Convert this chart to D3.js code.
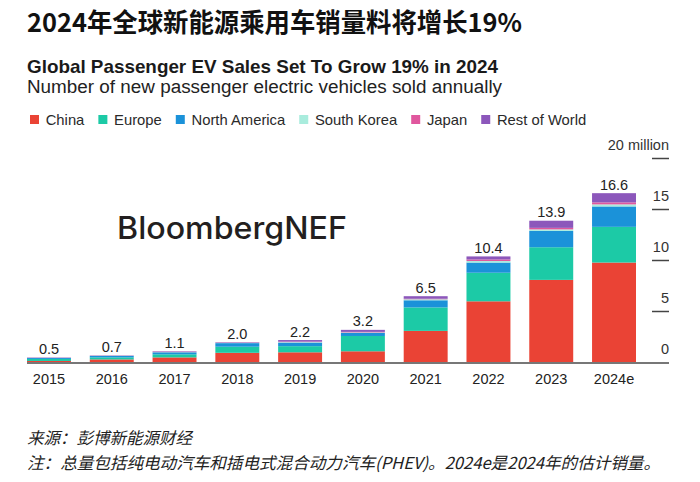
<!DOCTYPE html>
<html>
<head>
<meta charset="utf-8">
<script src="https://cdn.jsdelivr.net/npm/d3@7"></script>
<style>
  html, body { margin: 0; padding: 0; background: #ffffff; }
  svg { display: block; }
</style>
</head>
<body>
<svg id="chart" width="700" height="482"></svg>
<script>
// ---------------- data ----------------
const years = ["2015", "2016", "2017", "2018", "2019", "2020", "2021", "2022", "2023", "2024e"];
const china        = [0.15, 0.30, 0.50, 0.95, 1.00, 1.10, 3.10, 6.00, 8.10, 9.80];
const europe       = [0.20, 0.20, 0.30, 0.60, 0.60, 1.50, 2.30, 2.80, 3.20, 3.50];
const northAmerica = [0.10, 0.15, 0.20, 0.35, 0.35, 0.30, 0.70, 1.00, 1.60, 2.00];
const southKorea   = [0.01, 0.01, 0.02, 0.03, 0.05, 0.05, 0.10, 0.15, 0.15, 0.20];
const japan        = [0.02, 0.02, 0.03, 0.03, 0.05, 0.05, 0.05, 0.15, 0.15, 0.20];
const restOfWorld  = [0.02, 0.02, 0.05, 0.04, 0.15, 0.20, 0.25, 0.30, 0.70, 0.90];
const totalLabels  = ["0.5", "0.7", "1.1", "2.0", "2.2", "3.2", "6.5", "10.4", "13.9", "16.6"];
const seriesNames  = ["China", "Europe", "North America", "South Korea", "Japan", "Rest of World"];
const seriesColors = ["#ea4335", "#1ccaa6", "#1b92d9", "#a9ecdd", "#e0579e", "#8c57bb"];
const yTicks       = [0, 5, 10, 15, 20];
const yTickLabels  = ["0", "5", "10", "15", "20 million"];

const titleCN  = "2024年全球新能源乘用车销量料将增长19%";
const titleEN  = "Global Passenger EV Sales Set To Grow 19% in 2024";
const subtitle = "Number of new passenger electric vehicles sold annually";
const source   = "来源：彭博新能源财经";
const note     = "注：总量包括纯电动汽车和插电式混合动力汽车(PHEV)。2024e是2024年的估计销量。";

// ---------------- build table ----------------
const seriesData = [china, europe, northAmerica, southKorea, japan, restOfWorld];
const keys = seriesNames;
const table = years.map((yr, i) => {
  const row = { year: yr, label: totalLabels[i] };
  keys.forEach((k, j) => { row[k] = seriesData[j][i]; });
  return row;
});
const stacked = d3.stack().keys(keys)(table);
const color = d3.scaleOrdinal().domain(keys).range(seriesColors);

// ---------------- layout ----------------
const svg = d3.select("#chart");
const EN = "'Liberation Sans', Arial, Helvetica, sans-serif";
const CN = "'Noto Sans CJK SC', sans-serif";

const x = d3.scaleBand().domain(years).range([27, 636]).paddingInner(0.3).paddingOuter(0);
const y = d3.scaleLinear().domain([0, 20]).range([362.5, 158.5]);

// titles
svg.append("text")
  .attr("x", 27).attr("y", 32)
  .attr("font-family", CN).attr("font-weight", 700).attr("font-size", 26)
  .attr("fill", "#111")
  .attr("textLength", 495).attr("lengthAdjust", "spacingAndGlyphs")
  .text(titleCN);

svg.append("text")
  .attr("x", 27).attr("y", 73)
  .attr("font-family", EN).attr("font-weight", 700).attr("font-size", 19)
  .attr("fill", "#1a1a1a")
  .attr("textLength", 471).attr("lengthAdjust", "spacingAndGlyphs")
  .text(titleEN);

svg.append("text")
  .attr("x", 27).attr("y", 93)
  .attr("font-family", EN).attr("font-size", 18)
  .attr("fill", "#222")
  .attr("textLength", 475).attr("lengthAdjust", "spacingAndGlyphs")
  .text(subtitle);

// legend
const legend = svg.append("g").attr("transform", "translate(30,115)");
let lx = 0;
keys.forEach((k) => {
  const g = legend.append("g").attr("transform", `translate(${lx},0)`);
  g.append("rect").attr("width", 9).attr("height", 9).attr("fill", color(k));
  const t = g.append("text")
    .attr("x", 15.7).attr("y", 10)
    .attr("font-family", EN).attr("font-size", 14.8).attr("fill", "#2a2a2a")
    .text(k);
  const w = t.node().getComputedTextLength();
  lx += 15.7 + w + 14;
});

// watermark logo
svg.append("text")
  .attr("x", 117).attr("y", 238.5)
  .attr("font-family", "Inter, Lato, 'Liberation Sans', sans-serif").attr("font-weight", 500).attr("font-size", 31)
  .attr("fill", "#231f20")
  .attr("textLength", 230).attr("lengthAdjust", "spacingAndGlyphs")
  .text("BloombergNEF");

// y ticks (short lines, labels above)
const yAxis = svg.append("g");
yTicks.forEach((v, i) => {
  if (v !== 0) {
    yAxis.append("line")
      .attr("x1", 652).attr("x2", 669)
      .attr("y1", y(v)).attr("y2", y(v))
      .attr("stroke", "#444").attr("stroke-width", 1.5);
  }
  yAxis.append("text")
    .attr("x", 669).attr("y", y(v) - 8.5)
    .attr("text-anchor", "end")
    .attr("font-family", EN).attr("font-size", 14.5).attr("fill", "#333")
    .text(yTickLabels[i]);
});

// bars
const layers = svg.append("g").selectAll("g").data(stacked).join("g")
  .attr("fill", d => color(d.key));
layers.selectAll("rect").data(d => d).join("rect")
  .attr("x", d => x(d.data.year))
  .attr("width", x.bandwidth())
  .attr("y", d => y(d[1]))
  .attr("height", d => Math.max(0, y(d[0]) - y(d[1])));

// totals above bars
const topLayer = stacked[stacked.length - 1];
svg.append("g").selectAll("text").data(topLayer).join("text")
  .attr("x", d => x(d.data.year) + x.bandwidth() / 2)
  .attr("y", d => y(d[1]) - 3.5)
  .attr("text-anchor", "middle")
  .attr("font-family", EN).attr("font-size", 14.5).attr("fill", "#222")
  .text(d => d.data.label);

// baseline
svg.append("line")
  .attr("x1", 27).attr("x2", 669)
  .attr("y1", y(0) + 0.5).attr("y2", y(0) + 0.5)
  .attr("stroke", "#777").attr("stroke-width", 2);

// x axis labels
const xAxis = svg.append("g")
  .attr("transform", `translate(0,${y(0) + 1})`)
  .call(d3.axisBottom(x).tickSize(0).tickPadding(10));
xAxis.select(".domain").remove();
xAxis.selectAll("text")
  .attr("font-family", EN).attr("font-size", 14.5).attr("fill", "#222");

// footnotes
svg.append("text")
  .attr("x", 27).attr("y", 444)
  .attr("font-family", CN).attr("font-size", 16.5).attr("font-style", "italic")
  .attr("fill", "#222")
  .text(source);

svg.append("text")
  .attr("x", 27).attr("y", 469)
  .attr("font-family", CN).attr("font-size", 16.5).attr("font-style", "italic")
  .attr("fill", "#222")
  .attr("textLength", 633).attr("lengthAdjust", "spacingAndGlyphs")
  .text(note);
</script>
</body>
</html>
